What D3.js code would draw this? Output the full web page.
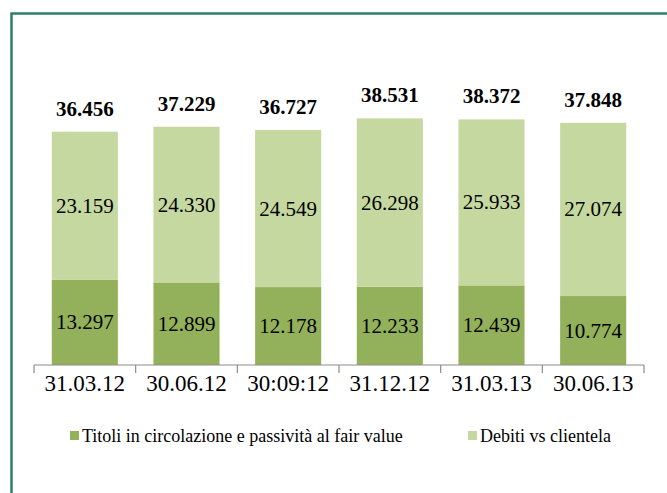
<!DOCTYPE html>
<html>
<head>
<meta charset="utf-8">
<script src="https://cdn.jsdelivr.net/npm/d3@7"></script>
</head>
<body style="margin:0">
<script>
// dates on the x axis
const periods = ['31.03.12', '30.06.12', '30:09:12', '31.12.12', '31.03.13', '30.06.13'];
// bottom segment (dark)
const titoli = [13297, 12899, 12178, 12233, 12439, 10774];
// top segment (light)
const debiti = [23159, 24330, 24549, 26298, 25933, 27074];
const seriesNames = ['Titoli in circolazione e passività al fair value', 'Debiti vs clientela'];
const colors = ['#93b15a', '#c5d89f'];

const width = 667, height = 493;
const fontFam = '"Liberation Serif", Tinos, "Times New Roman", serif';
const fmt = v => (v / 1000).toFixed(3);

const svg = d3.select('body')
    .append('svg')
    .attr('width', width)
    .attr('height', height);

// frame
svg.append('path')
    .attr('d', `M11.5,${height + 5} L11.5,13.5 L${width + 5},13.5`)
    .attr('fill', 'none')
    .attr('stroke', '#2e7d66')
    .attr('stroke-width', 2.5);

const x = d3.scaleBand()
    .domain(periods)
    .range([34, 644])
    .paddingInner(0.35)
    .paddingOuter(0.175);

const y = d3.scaleLinear()
    .domain([0, 40000])
    .range([365, 109]);

const rows = periods.map((p, i) => ({ p, a: titoli[i], b: debiti[i], tot: titoli[i] + debiti[i] }));

// dark segment
svg.selectAll('.seg-a')
    .data(rows)
    .enter()
    .append('rect')
    .attr('x', d => x(d.p))
    .attr('y', d => y(d.a))
    .attr('width', x.bandwidth())
    .attr('height', d => y(0) - y(d.a))
    .attr('fill', colors[0]);

// light segment
svg.selectAll('.seg-b')
    .data(rows)
    .enter()
    .append('rect')
    .attr('x', d => x(d.p))
    .attr('y', d => y(d.tot))
    .attr('width', x.bandwidth())
    .attr('height', d => y(d.a) - y(d.tot))
    .attr('fill', colors[1]);

const lab = sel => sel.attr('text-anchor', 'middle').style('font-family', fontFam);

// segment labels
svg.selectAll('.lab-a')
    .data(rows)
    .enter()
    .append('text')
    .attr('x', d => x(d.p) + x.bandwidth() / 2)
    .attr('y', d => (y(0) + y(d.a)) / 2 + 7)
    .attr('font-size', 21)
    .call(lab)
    .text(d => fmt(d.a));

svg.selectAll('.lab-b')
    .data(rows)
    .enter()
    .append('text')
    .attr('x', d => x(d.p) + x.bandwidth() / 2)
    .attr('y', d => (y(d.a) + y(d.tot)) / 2 + 7)
    .attr('font-size', 21)
    .call(lab)
    .text(d => fmt(d.b));

// totals
svg.selectAll('.lab-tot')
    .data(rows)
    .enter()
    .append('text')
    .attr('x', d => x(d.p) + x.bandwidth() / 2)
    .attr('y', d => y(d.tot) - 16)
    .attr('font-size', 21)
    .attr('font-weight', 'bold')
    .call(lab)
    .text(d => fmt(d.tot));

// x axis with ticks at band boundaries
const axis = svg.append('g').attr('transform', `translate(0,${y(0)})`);
axis.append('line')
    .attr('x1', 34).attr('x2', 644)
    .attr('stroke', '#8c8c8c').attr('stroke-width', 1.2);
const step = x.step();
axis.selectAll('.tk')
    .data(d3.range(periods.length + 1))
    .enter()
    .append('line')
    .attr('x1', i => 34 + i * step)
    .attr('x2', i => 34 + i * step)
    .attr('y1', 0).attr('y2', 8)
    .attr('stroke', '#8c8c8c').attr('stroke-width', 1.2);
axis.selectAll('.tl')
    .data(periods)
    .enter()
    .append('text')
    .attr('x', d => x(d) + x.bandwidth() / 2)
    .attr('y', 26)
    .attr('font-size', 23)
    .call(lab)
    .text(d => d);

// legend
const legend = svg.append('g').attr('transform', 'translate(0,436)');
const legX = [70, 468];
seriesNames.forEach((name, i) => {
    legend.append('rect')
        .attr('x', legX[i]).attr('y', -5)
        .attr('width', 9).attr('height', 9)
        .attr('fill', colors[i]);
    legend.append('text')
        .attr('x', legX[i] + 12)
        .attr('y', 6)
        .attr('font-size', 18)
        .style('font-family', fontFam)
        .text(name);
});
</script>
</body>
</html>
